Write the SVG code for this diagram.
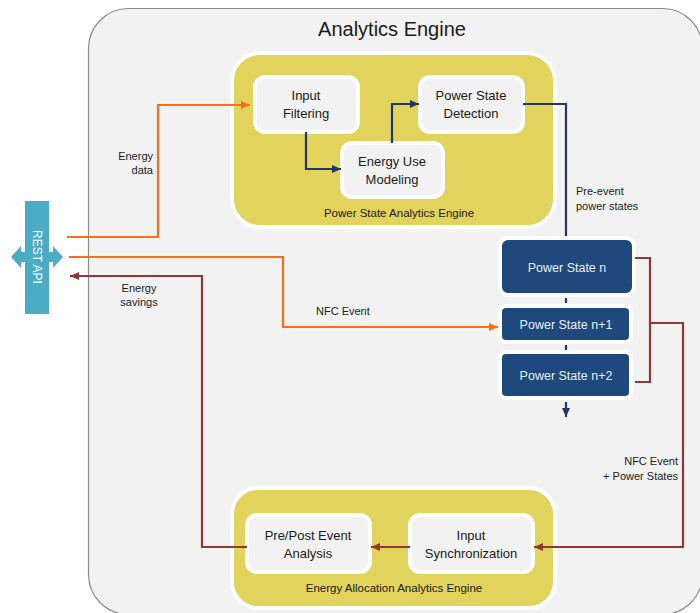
<svg xmlns="http://www.w3.org/2000/svg" width="700" height="613" viewBox="0 0 700 613">
<style>
.t{font-family:"Liberation Sans",Arial,sans-serif;fill:#1a1a1a}
.panel{fill:#e1d35b;stroke:#ffffff;stroke-width:4}
.box{fill:#f2f2f2;stroke:#ffffff;stroke-width:4}
.ps{fill:#1f497d;stroke:#ffffff;stroke-width:4}
.pst{font-family:"Liberation Sans",Arial,sans-serif;fill:#e8eef6;font-size:12.5px;text-anchor:middle}
.bt{font-size:13px;text-anchor:middle}
.sm{font-size:11px}
.or{fill:none;stroke:#fa6e14;stroke-width:2.2}
.nv{fill:none;stroke:#1f3864;stroke-width:2.2}
.rd{fill:none;stroke:#943634;stroke-width:2.2}
</style>
<defs>
<marker id="ao" markerWidth="10" markerHeight="10" refX="9" refY="5" orient="auto" markerUnits="userSpaceOnUse"><path d="M0,1 L9,5 L0,9 z" fill="#fa6e14"/></marker>
<marker id="an" markerWidth="10" markerHeight="10" refX="9" refY="5" orient="auto" markerUnits="userSpaceOnUse"><path d="M0,1 L9,5 L0,9 z" fill="#1f3864"/></marker>
<marker id="ar" markerWidth="10" markerHeight="10" refX="9" refY="5" orient="auto" markerUnits="userSpaceOnUse"><path d="M0,1 L9,5 L0,9 z" fill="#943634"/></marker>
</defs>
<rect width="700" height="613" fill="#ffffff"/>
<g id="analytics-engine">
<rect x="88.5" y="8.5" width="614" height="606" rx="40" fill="#f2f2f2" stroke="#8c8c8c" stroke-width="1.2"/>
<text class="t" x="392" y="36" font-size="20" text-anchor="middle">Analytics Engine</text>
</g>
<g id="rest-api">
<rect x="25" y="201" width="24" height="113" fill="#4bacc6"/>
<path d="M11,257 L21,246 L21,252 L53,252 L53,246 L63,257 L53,268 L53,262 L21,262 L21,268 z" fill="#4bacc6"/>
<text x="37" y="257" transform="rotate(90 37 257)" font-family="Liberation Sans,Arial,sans-serif" font-size="12" fill="#ffffff" text-anchor="middle" dominant-baseline="central">REST API</text>
</g>
<g id="power-state-analytics-engine">
<rect class="panel" x="232" y="53" width="323" height="174" rx="28"/>
<text class="t" x="399" y="217" font-size="11.5" text-anchor="middle">Power State Analytics Engine</text>
</g>
<g id="input-filtering">
<rect class="box" x="255" y="77" width="103" height="55" rx="10"/>
<text class="t bt" x="306" y="100">Input</text>
<text class="t bt" x="306" y="118">Filtering</text>
</g>
<g id="energy-use-modeling">
<rect class="box" x="342" y="143" width="101" height="54" rx="10"/>
<text class="t bt" x="392" y="166">Energy Use</text>
<text class="t bt" x="392" y="184">Modeling</text>
</g>
<g id="power-state-detection">
<rect class="box" x="420" y="77" width="103" height="55" rx="10"/>
<text class="t bt" x="471" y="100">Power State</text>
<text class="t bt" x="471" y="118">Detection</text>
</g>
<g id="power-state-n">
<rect class="ps" x="500" y="238" width="134" height="57" rx="8"/>
<text class="pst" x="567" y="272">Power State n</text>
</g>
<g id="power-state-n1">
<rect class="ps" x="500" y="306" width="131" height="36" rx="6"/>
<text class="pst" x="566" y="329">Power State n+1</text>
</g>
<g id="power-state-n2">
<rect class="ps" x="500" y="352" width="131" height="46" rx="6"/>
<text class="pst" x="566" y="380">Power State n+2</text>
</g>
<g id="energy-allocation-analytics-engine">
<rect class="panel" x="232" y="488" width="323" height="120" rx="26"/>
<text class="t" x="394" y="592" font-size="11.5" text-anchor="middle">Energy Allocation Analytics Engine</text>
</g>
<g id="pre-post-event-analysis">
<rect class="box" x="247" y="515" width="123" height="57" rx="10"/>
<text class="t bt" x="308" y="540">Pre/Post Event</text>
<text class="t bt" x="308" y="558">Analysis</text>
</g>
<g id="input-synchronization">
<rect class="box" x="410" y="515" width="123" height="57" rx="10"/>
<text class="t bt" x="471" y="540">Input</text>
<text class="t bt" x="471" y="558">Synchronization</text>
</g>
<g id="connectors">
<path class="or" d="M67,237 H158 V105 H250" marker-end="url(#ao)"/>
<path class="or" d="M69,257 H283 V327 H498" marker-end="url(#ao)"/>
<path class="rd" d="M247,547 H202 V276 H70" marker-end="url(#ar)"/>
<path class="nv" d="M306,132 V169 H341" marker-end="url(#an)"/>
<path class="nv" d="M392,143 V104 H419" marker-end="url(#an)"/>
<path class="nv" d="M523,104 H566 V236"/>
<path class="nv" d="M566,298 V303 M566,345 V350"/>
<path class="nv" d="M566,402 V417" marker-end="url(#an)"/>
<path class="rd" d="M635,258 H650 V382 H635 M650,323 H683 V547 H534" marker-end="url(#ar)"/>
<path class="rd" d="M410,547 H371" marker-end="url(#ar)"/>
</g>
<g id="labels">
<text class="t sm" x="153" y="160" text-anchor="end">Energy</text>
<text class="t sm" x="153" y="174" text-anchor="end">data</text>
<text class="t sm" x="139" y="292" text-anchor="middle">Energy</text>
<text class="t sm" x="139" y="306" text-anchor="middle">savings</text>
<text class="t sm" x="316" y="315">NFC Event</text>
<text class="t sm" x="576" y="195">Pre-event</text>
<text class="t sm" x="576" y="210">power states</text>
<text class="t sm" x="678" y="465" text-anchor="end">NFC Event</text>
<text class="t sm" x="678" y="480" text-anchor="end">+ Power States</text>
</g>
</svg>
